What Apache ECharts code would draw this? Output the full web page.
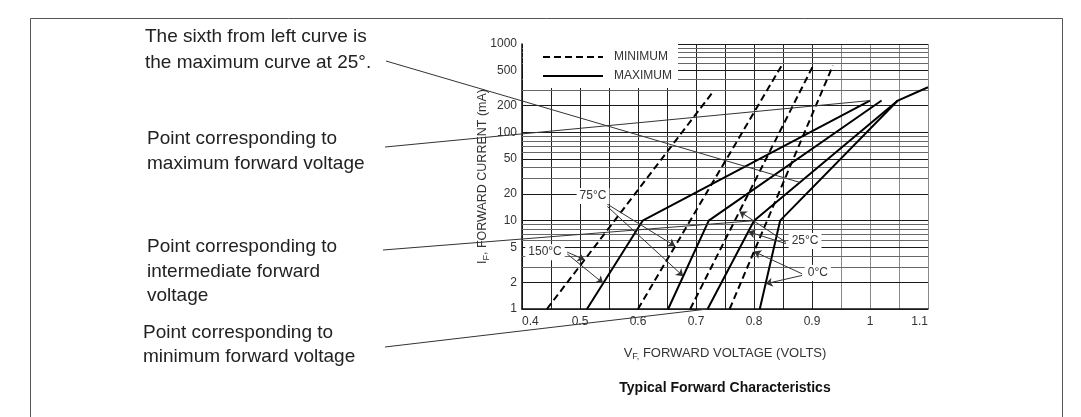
<!DOCTYPE html>
<html><head><meta charset="utf-8">
<script src="https://cdn.jsdelivr.net/npm/echarts@6/dist/echarts.min.js"></script>
<style>html,body{margin:0;padding:0;background:#fff}#c{width:1081px;height:417px}</style>
</head><body><div id="c"></div>
<script>
// ---- data ----
const xGridValues = [0.4,0.45,0.5,0.55,0.6,0.65,0.7,0.75,0.8,0.85,0.9,0.95,1.0,1.05,1.1];
const xTickValues = [0.4,0.5,0.6,0.7,0.8,0.9,1.0,1.1];
const xTickLabels = ['0.4','0.5','0.6','0.7','0.8','0.9','1','1.1'];
const yTickValues = [1,2,5,10,20,50,100,200,500,1000];
const yGridValues = [1,2,3,4,5,6,7,8,9,10,20,30,40,50,60,70,80,90,100,200,300,400,500,600,700,800,900,1000];

// MINIMUM (dashed) curves  [V, mA]
const min150 = [[0.443,1],[0.728,280]];
const min75  = [[0.600,1],[0.847,560]];
const min25  = [[0.690,1],[0.902,570]];
const min0   = [[0.758,1],[0.936,570]];
// MAXIMUM (solid) curves
const max150 = [[0.512,1],[0.608,10],[1.000,229]];
const max75  = [[0.652,1],[0.722,10],[1.020,229]];
const max25  = [[0.720,1],[0.800,10],[1.048,229]];
const max0   = [[0.810,1],[0.845,10],[1.048,229],[1.100,324]];

const tempLabels = ['150°C','75°C','25°C','0°C'];
const tempLabelPos = [[0.4397,4.4],[0.5224,19],[0.888,5.9],[0.910,2.56]];
const arrowFrom = [[0.478,4.4],[0.478,4.2],[0.547,15.4],[0.547,14.5],[0.855,5.7],[0.855,5.5],[0.883,2.5],[0.883,2.4]];
const arrowToV  = [0.508,0.540,0.664,0.678,0.775,0.790,0.800,0.820];

const noteLines = [
  ['The sixth from left curve is','the maximum curve at 25°.'],
  ['Point corresponding to','maximum forward voltage'],
  ['Point corresponding to','intermediate forward','voltage'],
  ['Point corresponding to','minimum forward voltage']
];
const titleText = 'Typical Forward Characteristics';

// ---- build ----
const FONT = '"Liberation Sans", Arial, sans-serif';
const curves = [
  ['MINIMUM',min150],['MAXIMUM',max150],['MINIMUM',min75],['MAXIMUM',max75],
  ['MINIMUM',min25],['MAXIMUM',max25],['MINIMUM',min0],['MAXIMUM',max0]
];
function interp(pts, v){
  for (let i=0;i<pts.length-1;i++){
    const a=pts[i], b=pts[i+1];
    if (v>=a[0] && v<=b[0]){
      const t=(v-a[0])/(b[0]-a[0]);
      return Math.pow(10, Math.log10(a[1])+t*(Math.log10(b[1])-Math.log10(a[1])));
    }
  }
  return pts[pts.length-1][1];
}
const arrowCurves = [min150,max150,min75,max75,min25,max25,min0,max0];

const chart = echarts.init(document.getElementById('c'));
const series = [{
  type:'line', name:'grid', data:[], silent:true,
  markLine:{silent:true, symbol:'none', z:1, animation:false,
    data: yGridValues.map(v=>({yAxis:v,
      lineStyle:{color: yTickValues.includes(v)?'#1a1a1a':'#666', width:1, type:'solid'},
      label:{show: yTickValues.includes(v), formatter:String(v), position:'start', distance:5,
             color:'#333', fontSize:12, fontFamily:FONT}}))}
}];
curves.forEach(c=>series.push({
  type:'line', name:c[0], data:c[1], symbol:'none', z:3, animation:false,
  itemStyle:{color:'#000'},
  lineStyle:{color:'#000', width:2, type: c[0]==='MINIMUM'?[7,4]:'solid'}
}));
series.push({
  type:'line', name:'arrows', data:[], silent:true,
  markLine:{silent:true, symbol:['none','arrow'], symbolSize:7, animation:false,
    lineStyle:{color:'#333', width:1, type:'solid'}, label:{show:false},
    data: arrowFrom.map((f,i)=>[{coord:f},{coord:[arrowToV[i], interp(arrowCurves[i], arrowToV[i])]}])}
});

chart.setOption({
  animation:false,
  backgroundColor:'#fff',
  grid:{left:522, top:44, width:406, height:265, containLabel:false, outerBoundsMode:'none'},
  legend:{data:['MINIMUM','MAXIMUM'], orient:'vertical', left:523, top:43, padding:[8,6,6,19],
    itemWidth:60, itemHeight:14, itemGap:7, backgroundColor:'#fff', selectedMode:false, z:4,
    itemStyle:{opacity:0, borderWidth:0},
    textStyle:{fontSize:12, color:'#333', fontFamily:FONT, padding:[0,0,0,6]}},
  xAxis:{type:'value', min:0.4, max:1.1, interval:0.05,
    axisLine:{show:true, onZero:false, lineStyle:{color:'#111', width:1.5}},
    axisTick:{show:false},
    axisLabel:{color:'#333', fontSize:12, fontFamily:FONT, margin:7, alignMinLabel:'left', alignMaxLabel:'right',
      formatter:v=>{const i=xTickValues.findIndex(t=>Math.abs(t-v)<1e-6); return i>=0?xTickLabels[i]:'';}},
    splitLine:{show:true, lineStyle:{width:1, color: xGridValues.map(v=>v>0.93?'#8a8a8a':'#222')}},
    name:'{a|V}{b|F,}{a| FORWARD VOLTAGE (VOLTS)}', nameLocation:'middle', nameGap:36,
    nameTextStyle:{color:'#333', fontFamily:FONT, rich:{a:{fontSize:13, color:'#333', fontFamily:FONT}, b:{fontSize:9, color:'#333', fontFamily:FONT, padding:[7,0,0,0]}}}
  },
  yAxis:{type:'log', logBase:10, min:1, max:1000,
    axisLine:{show:true, lineStyle:{color:'#111', width:1.5}},
    axisTick:{show:false}, axisLabel:{show:false}, splitLine:{show:false}, minorSplitLine:{show:false},
    name:'{a|I}{b|F}{a|, FORWARD CURRENT (mA)}', nameLocation:'middle', nameGap:31,
    nameTextStyle:{color:'#333', fontFamily:FONT, rich:{a:{fontSize:12.5, color:'#333', fontFamily:FONT}, b:{fontSize:9, color:'#333', fontFamily:FONT, padding:[7,0,0,0]}}}
  },
  series:series
});

// ---- annotations (positions computed through the chart's own scales) ----
const P = d => chart.convertToPixel({gridIndex:0}, d);
const g = [];
g.push({type:'rect', shape:{x:30.5, y:18.5, width:1032, height:430}, style:{fill:'none', stroke:'#555', lineWidth:1}, z:0, silent:true});
tempLabels.forEach((t,i)=>{
  const p=P(tempLabelPos[i]);
  g.push({type:'text', x:p[0], y:p[1], z:10, style:{text:t, align:'center', verticalAlign:'middle', font:'12px '+FONT, fill:'#333', backgroundColor:'#fff', padding:[2,3]}});
});
const noteX = [145,147,147,143];
const noteY = [[37,63],[139,164],[247,272,296],[333,357]];
noteLines.forEach((ls,gi)=>ls.forEach((s,li)=>{
  g.push({type:'text', x:noteX[gi], y:noteY[gi][li], style:{text:s, align:'left', verticalAlign:'middle', font:'19px '+FONT, fill:'#222'}});
}));
const leaderStart = [[386,61],[385,147],[383,250],[385,347]];
const leaderTarget = [[0.879, interp(max25,0.879)],[1.0, interp(max150,1.0)],[0.80, interp(max25,0.80)],[0.72, interp(max25,0.72)]];
leaderStart.forEach((s,i)=>{
  const p=P(leaderTarget[i]);
  g.push({type:'line', z:20, shape:{x1:s[0], y1:s[1], x2:p[0], y2:p[1]}, style:{stroke:'#333', lineWidth:1}});
});
g.push({type:'text', x:725, y:388, style:{text:titleText, align:'center', verticalAlign:'middle', font:'bold 14px '+FONT, fill:'#111'}});
chart.setOption({graphic:g});
</script></body></html>
